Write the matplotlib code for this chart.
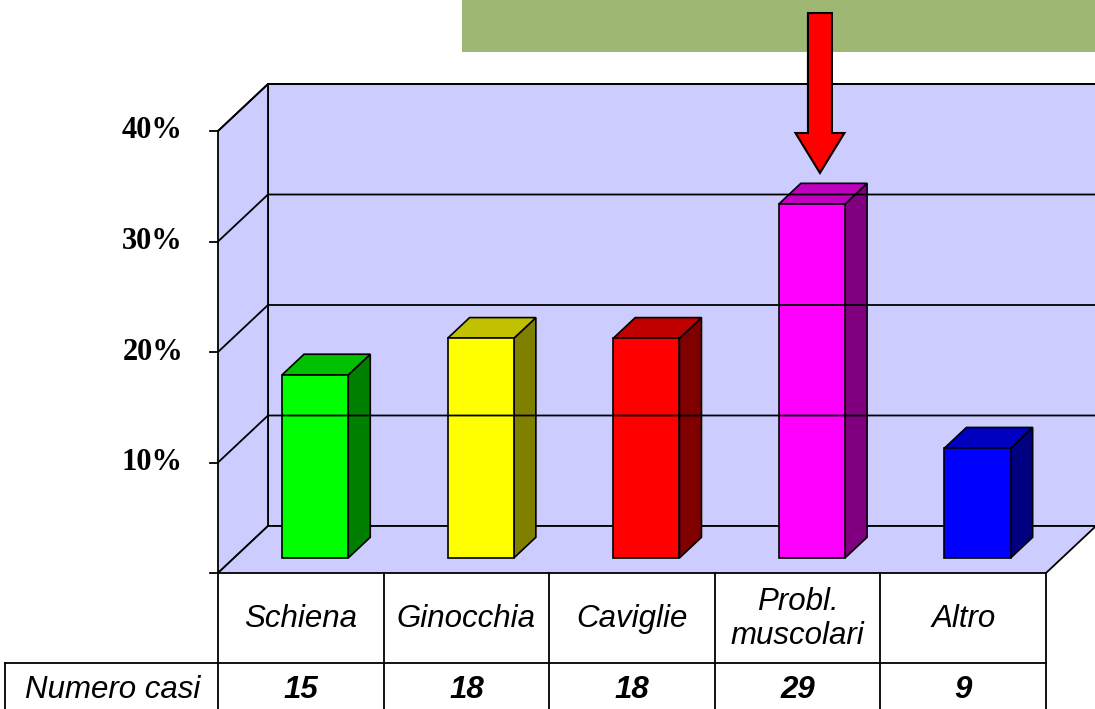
import matplotlib
matplotlib.use("Agg")
import matplotlib.pyplot as plt
from matplotlib.patches import Polygon, Rectangle, FancyArrow

# data
categories = ["Schiena", "Ginocchia", "Caviglie", "Probl.\nmuscolari", "Altro"]
cases = [15, 18, 18, 29, 9]
total = sum(cases)
percent = [c / total * 100 for c in cases]
yticks = [10, 20, 30, 40]
front_colors = ["#00FF00", "#FFFF00", "#FF0000", "#FF00FF", "#0000FF"]
top_colors = ["#00C000", "#C0C000", "#C00000", "#C000C0", "#0000C0"]
side_colors = ["#008000", "#808000", "#800000", "#800080", "#000080"]

# geometry of the fake 3D chart (pixel space)
x0, y0 = 218, 573          # front floor, left corner
cell_w = 165.6             # width of one category
px_per_pct = 11.05         # vertical scale of the walls
bar_scale = 0.983          # bars are drawn slightly shorter in the original
ddx, ddy = 50, 47          # depth offset of the back wall
wall = "#CCCCFF"


def proj(x, v, d):
    """category coord x, value v (%), depth d (0 front .. 1 back) -> pixels"""
    return (x0 + x * cell_w + d * ddx, y0 - v * px_per_pct - d * ddy)


fig = plt.figure(figsize=(10.95, 7.09), dpi=100)
ax = fig.add_axes([0, 0, 1, 1])
ax.set_xlim(0, 1095)
ax.set_ylim(709, 0)
ax.axis("off")

n = len(categories)
vmax = 40
lw = 1.3

# walls and floor
left_wall = [proj(0, 0, 0), proj(0, vmax, 0), proj(0, vmax, 1), proj(0, 0, 1)]
back_wall = [proj(0, 0, 1), proj(0, vmax, 1), proj(n + 0.3, vmax, 1), proj(n + 0.3, 0, 1)]
floor = [proj(0, 0, 0), proj(n, 0, 0), proj(n, 0, 1), proj(0, 0, 1)]
for poly in (back_wall, left_wall, floor):
    ax.add_patch(Polygon(poly, closed=True, facecolor=wall, edgecolor="black", lw=lw))

# gridlines
for t in yticks:
    a, b, c = proj(0, t, 0), proj(0, t, 1), proj(n + 0.3, t, 1)
    ax.plot([a[0], b[0], c[0]], [a[1], b[1], c[1]], color="black", lw=lw)
    ax.plot([a[0] - 8, a[0]], [a[1], a[1]], color="black", lw=lw)
    ax.text(a[0] - 35, a[1], f"{t}%", ha="right", va="center",
            fontsize=22, fontweight="bold", family="Liberation Serif")
a = proj(0, 0, 0)
ax.plot([a[0] - 8, a[0]], [a[1], a[1]], color="black", lw=lw)

# bars
bw, d0, d1 = 0.40, 0.32, 0.76
for i, p in enumerate(percent):
    v = p * bar_scale
    xl, xr = i + 0.29, i + 0.29 + bw
    front = [proj(xl, 0, d0), proj(xl, v, d0), proj(xr, v, d0), proj(xr, 0, d0)]
    top = [proj(xl, v, d0), proj(xl, v, d1), proj(xr, v, d1), proj(xr, v, d0)]
    side = [proj(xr, 0, d0), proj(xr, v, d0), proj(xr, v, d1), proj(xr, 0, d1)]
    for poly, col in ((side, side_colors[i]), (top, top_colors[i]), (front, front_colors[i])):
        ax.add_patch(Polygon(poly, closed=True, facecolor=col, edgecolor="black", lw=1.2))

# data table below the chart
y_mid = 663
for k in range(n + 1):
    x = x0 + k * cell_w
    ax.plot([x, x], [y0, 709], color="black", lw=lw)
ax.plot([5, x0 + n * cell_w], [y_mid, y_mid], color="black", lw=lw)
ax.plot([5, 5], [y_mid, 709], color="black", lw=lw)
for i, (cat, c) in enumerate(zip(categories, cases)):
    xc = x0 + (i + 0.5) * cell_w
    ax.text(xc, 619, cat, ha="center", va="center", fontsize=22.5, style="italic",
            family="Liberation Sans", linespacing=1.2)
    ax.text(xc, 690, str(c), ha="center", va="center", fontsize=22.5, style="italic",
            fontweight="bold", family="Liberation Sans")
ax.text(113, 690, "Numero casi", ha="center", va="center", fontsize=22.5,
        style="italic", family="Liberation Sans")

# green banner and red arrow
ax.add_patch(Rectangle((462, 0), 640, 52, facecolor="#9EB873", edgecolor="none"))
tx = proj(3 + 0.29 + bw / 2, percent[3], d0)[0]
ax.add_patch(FancyArrow(tx + 8, 13, 0, 160, width=24, head_width=49, head_length=40,
                        length_includes_head=True, facecolor="#FF0000",
                        edgecolor="black", lw=1.5, zorder=5))

fig.savefig("out.png", dpi=100)
